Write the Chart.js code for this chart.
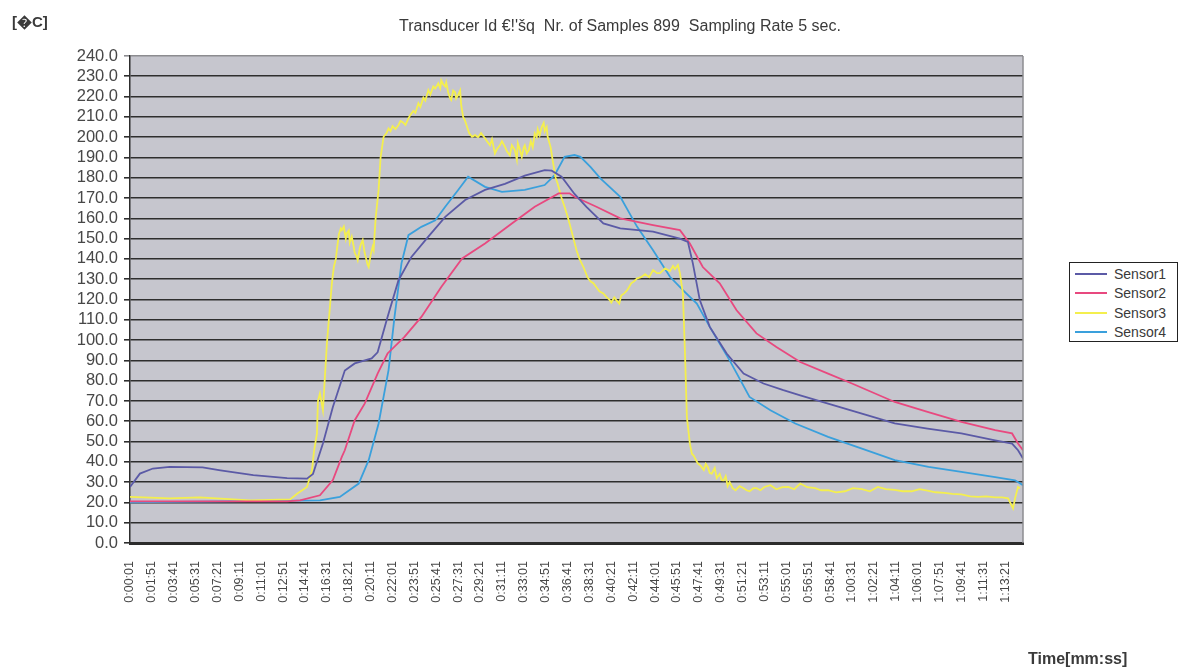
<!DOCTYPE html>
<html>
<head>
<meta charset="utf-8">
<script src="https://cdn.jsdelivr.net/npm/chart.js@4.4.1/dist/chart.umd.min.js"></script>
<style>
  html, body { margin: 0; padding: 0; background: #fff; }
  #wrap { position: relative; width: 1180px; height: 668px; font-family: "Liberation Sans", Arial, sans-serif; color: #3a3a3a; }
  #chart { position: absolute; left: 0; top: 0; }
  .unit { position: absolute; left: 12px; top: 11px; font-size: 15px; font-weight: bold; }
  .title { position: absolute; left: 0; width: 1240px; top: 17px; text-align: center; font-size: 16px; white-space: pre; }
  .xname { position: absolute; left: 1028px; top: 650px; font-size: 16px; font-weight: bold; }
  .legend { position: absolute; left: 1069px; top: 262px; width: 107px; height: 78px; border: 1px solid #222; background: #fff; }
  .legend .item { position: absolute; left: 5px; height: 19px; display: flex; align-items: center; font-size: 14px; }
  .legend .swatch { width: 32px; height: 2px; margin-right: 7px; }
</style>
</head>
<body>
<div id="wrap">
  <canvas id="chart" width="1180" height="668"></canvas>
  <div class="unit">[&#xFFFD;C]</div>
  <div class="title">Transducer Id €!'šq  Nr. of Samples 899  Sampling Rate 5 sec.</div>
  <div class="xname">Time[mm:ss]</div>
  <div class="legend" id="legend"></div>
</div>
<script>
// Logged samples (one every 5 s); x = sample number, y = temperature in °C
const seriesNames = ['Sensor1', 'Sensor2', 'Sensor3', 'Sensor4'];
const seriesColors = ['#5b5aa6', '#e8497f', '#f4ef4e', '#3aa0dc'];

const timeLabels = ['0:00:01','0:01:51','0:03:41','0:05:31','0:07:21','0:09:11','0:11:01','0:12:51',
  '0:14:41','0:16:31','0:18:21','0:20:11','0:22:01','0:23:51','0:25:41','0:27:31','0:29:21','0:31:11',
  '0:33:01','0:34:51','0:36:41','0:38:31','0:40:21','0:42:11','0:44:01','0:45:51','0:47:41','0:49:31',
  '0:51:21','0:53:11','0:55:01','0:56:51','0:58:41','1:00:31','1:02:21','1:04:11','1:06:01','1:07:51',
  '1:09:41','1:11:31','1:13:21'];
const labelEvery = 22;      // samples between two time labels
const lastSample = 898;     // 899 samples, numbered from 0

const s1Idx = [0,10,23,40,73,91,124,158,178,184,194,204,216,226,243,249,259,270,283,300,317,337,357,377,397,
  417,424,434,447,459,476,493,526,553,561,566,573,583,600,617,637,657,674,702,736,769,802,836,870,887,893,898];
const s1Val = [27.6,34.2,36.7,37.5,37.3,35.8,33.4,32.0,31.7,34.0,49.0,67.0,85.0,88.5,91.0,94.0,111.4,129.5,141.0,151.0,160.7,169.0,174.0,177.0,181.0,
  183.8,183.5,180.5,172.0,165.7,157.5,155.0,153.4,150.0,148.4,137.8,119.7,106.5,93.4,83.5,78.6,75.3,72.8,68.7,63.8,58.9,56.4,54.0,50.6,49.0,45.7,41.6];

const s2Idx = [0,158,171,191,204,213,216,226,236,249,259,276,293,313,334,357,384,407,431,442,447,469,493,526,553,
  563,576,593,610,630,650,674,702,726,769,802,836,870,887,893,898];
const s2Val = [20.5,20.5,21.0,23.5,31.0,42.4,45.7,60.5,68.7,83.5,93.4,101.6,111.4,126.2,140.2,147.6,157.5,165.7,172.3,172.3,170.6,165.7,160.0,156.7,154.2,
  147.6,136.0,128.0,114.7,103.3,96.6,89.2,83.5,78.6,69.5,64.6,59.7,55.6,54.0,49.0,45.7];

const s3Idx = [0,40,70,121,161,168,178,183,185,188,189,191,194,198,203,205,207,208,210,212,213,215,217,218,220,221,223,225,226,228,229,
  231,232,234,236,237,239,240,242,244,245,247,250,252,255,258,260,262,264,267,270,272,274,277,280,282,285,287,290,292,295,297,300,302,305,307,310,312,313,315,317,318,320,322,323,325,327,328,330,332,333,
  335,337,339,341,344,347,350,353,357,359,362,364,367,369,372,374,377,379,382,384,387,389,390,392,394,396,397,399,401,403,405,407,409,410,412,414,416,417,419,420,423,425,428,430,434,437,440,442,446,449,452,456,
  460,463,466,469,472,476,479,482,484,487,489,492,494,497,500,504,507,510,514,518,522,526,530,533,538,543,546,548,551,553,556,558,560,563,565,567,569,571,574,577,579,581,583,585,588,590,593,595,597,599,601,603,
  606,609,613,617,620,623,627,630,634,638,644,650,656,662,668,674,681,689,695,702,710,719,727,736,744,752,760,769,777,786,794,802,810,819,827,836,845,853,861,870,877,883,888,890,893,895,897,898];
const s3Val = [22.7,22.0,22.5,21.0,21.5,24.3,27.6,35.8,45.0,54.0,70.0,73.7,65.4,98.3,128.0,136.0,140.0,144.3,152.0,155.0,154.2,156.0,150.0,152.6,154.0,148.0,151.0,146.0,143.0,141.0,139.4,
  145.0,147.0,149.3,143.0,141.0,137.0,136.0,142.0,146.0,144.3,160.0,174.0,190.0,200.2,202.0,204.3,203.0,205.5,204.0,206.0,208.0,207.5,206.0,209.3,211.0,213.0,212.0,216.7,215.0,219.5,218.0,223.2,221.0,225.0,224.0,226.5,224.0,228.0,226.0,225.0,227.0,222.0,219.0,218.3,223.0,222.0,219.0,220.8,223.0,216.0,
  210.0,208.0,205.0,202.0,200.2,201.0,200.0,202.0,199.5,198.0,196.0,199.0,192.0,194.0,196.0,198.0,195.3,193.0,191.0,196.0,193.6,189.0,197.0,194.0,190.3,195.0,196.0,192.0,193.6,198.0,195.0,201.9,200.0,204.0,201.0,205.0,207.0,203.0,205.0,200.2,195.0,188.7,180.0,177.2,170.0,165.7,161.0,157.5,150.0,144.3,140.0,136.0,
  131.0,129.0,128.0,126.0,124.0,123.0,121.3,120.0,118.5,121.0,119.7,118.0,122.0,123.0,124.6,128.0,129.0,130.4,131.0,132.5,131.0,134.5,133.0,133.0,135.3,134.0,136.5,135.0,137.0,133.0,123.0,95.0,62.1,49.0,44.0,43.0,41.0,39.2,38.0,36.0,39.0,37.5,34.5,34.2,37.0,32.0,34.0,31.0,30.9,33.0,
  28.0,30.0,27.0,26.0,28.0,27.0,26.0,25.5,27.0,27.0,26.0,27.6,28.5,26.5,27.5,27.6,26.5,29.3,27.5,27.0,26.0,26.0,25.0,25.5,27.0,26.5,25.5,27.6,26.5,26.2,25.5,25.5,26.5,25.8,25.0,24.7,24.2,24.0,23.0,22.7,23.0,22.5,22.5,22.0,17.0,22.0,27.6,27.0];

const s4Idx = [0,191,211,230,240,250,260,266,273,280,293,307,317,330,340,357,374,397,417,427,437,447,453,463,473,
  493,510,526,543,556,570,583,603,623,644,669,702,736,769,803,836,870,890,898];
const s4Val = [20.0,21.0,22.7,29.3,40.8,58.9,85.2,111.4,137.8,151.7,155.8,159.0,165.7,174.0,180.5,175.5,173.0,174.0,176.4,181.3,190.3,191.2,190.3,185.4,179.7,
  170.6,155.8,144.3,131.2,124.6,118.0,106.5,90.0,72.0,65.4,58.9,52.3,46.5,40.8,37.5,35.0,32.5,30.9,28.5];

const seriesIdx = [s1Idx, s2Idx, s3Idx, s4Idx];
const seriesVal = [s1Val, s2Val, s3Val, s4Val];

const FONT = '"Liberation Sans", Arial, sans-serif';
const PLOT_BG = '#c6c6ce';

// Legend box on the right
const legendEl = document.getElementById('legend');
seriesNames.forEach((name, i) => {
  const row = document.createElement('div');
  row.className = 'item';
  row.style.top = (1 + i * 19.5) + 'px';
  const sw = document.createElement('span');
  sw.className = 'swatch';
  sw.style.background = seriesColors[i];
  const tx = document.createElement('span');
  tx.textContent = name;
  row.appendChild(sw);
  row.appendChild(tx);
  legendEl.appendChild(row);
});

// Grey plot background and a light frame on the right-hand edge
const plotFrame = {
  id: 'plotFrame',
  beforeDraw(chart) {
    const a = chart.chartArea, c = chart.ctx;
    c.save();
    c.fillStyle = PLOT_BG;
    c.fillRect(a.left, a.top, a.right - a.left, a.bottom - a.top);
    c.restore();
  },
  afterDraw(chart) {
    const a = chart.chartArea, c = chart.ctx;
    c.save();
    c.strokeStyle = '#8c8c90';
    c.lineWidth = 1.5;
    c.beginPath();
    c.moveTo(a.right, a.top);
    c.lineTo(a.right, a.bottom);
    c.stroke();
    c.restore();
  }
};

new Chart(document.getElementById('chart'), {
  type: 'line',
  data: {
    datasets: seriesNames.map((name, i) => ({
      label: name,
      data: seriesIdx[i].map((x, k) => ({ x: x, y: seriesVal[i][k] })),
      borderColor: seriesColors[i],
      backgroundColor: seriesColors[i],
      borderWidth: 1.8,
      pointRadius: 0,
      tension: 0,
      fill: false
    }))
  },
  options: {
    responsive: false,
    animation: false,
    layout: { padding: { left: 0, right: 157, top: 56, bottom: 0 } },
    plugins: { legend: { display: false }, title: { display: false }, tooltip: { enabled: false } },
    scales: {
      x: {
        type: 'linear',
        min: 0,
        max: lastSample,
        grid: { display: false, drawTicks: false },
        border: { display: true, color: '#2c2c2c', width: 3 },
        afterBuildTicks: s => { s.ticks = timeLabels.map((_, i) => ({ value: i * labelEvery })); },
        afterFit: s => { s.height = 125; },
        ticks: {
          autoSkip: false, minRotation: 90, maxRotation: 90, padding: 18,
          font: { family: FONT, size: 12.5 }, color: '#474747',
          callback: v => timeLabels[Math.round(v / labelEvery)]
        }
      },
      y: {
        min: 0,
        max: 240,
        afterFit: s => { s.width = 130; },
        border: { display: true, color: '#2c2c2c', width: 1.5 },
        grid: {
          color: ctx => (ctx.tick && ctx.tick.value === 240 ? '#8c8c90' : '#2e2e2e'),
          lineWidth: 1.6,
          tickLength: 6
        },
        ticks: {
          stepSize: 10, padding: 6, autoSkip: false,
          font: { family: FONT, size: 16.5 }, color: '#474747',
          callback: v => v.toFixed(1)
        }
      }
    }
  },
  plugins: [plotFrame]
});
</script>
</body>
</html>
